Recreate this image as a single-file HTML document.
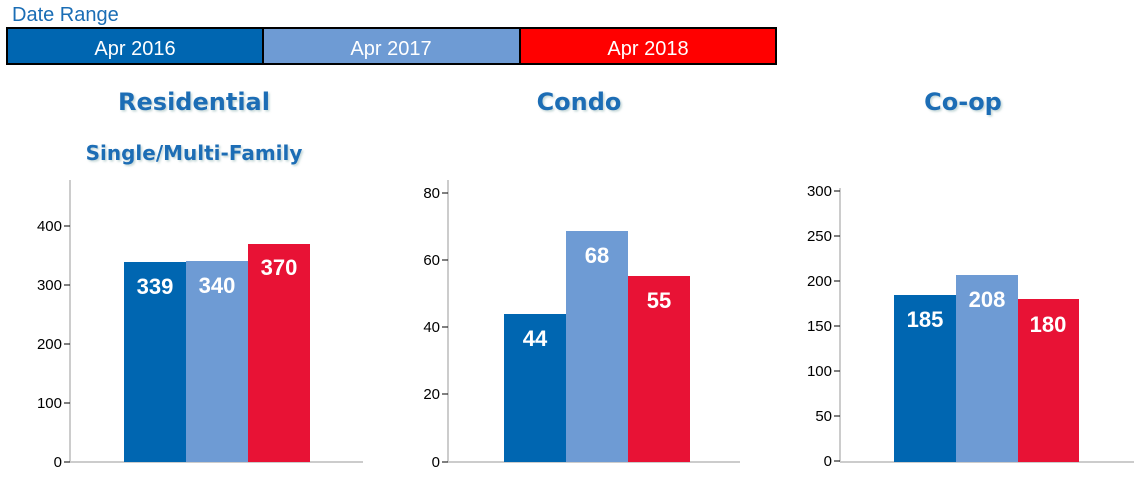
<!DOCTYPE html>
<html><head><meta charset="utf-8"><style>
body{margin:0;background:#fff;width:1143px;height:477px;overflow:hidden}
svg text{font-family:"Liberation Sans",sans-serif}
svg text.t{font-family:"DejaVu Sans",sans-serif}
</style></head><body>
<svg width="1143" height="477" xmlns="http://www.w3.org/2000/svg">
<defs><filter id="sh"><feDropShadow dx="1.5" dy="1.5" stdDeviation="1" flood-color="#9bb" flood-opacity="0.6"/></filter></defs>
<text x="12" y="21" font-size="20" fill="#1a6db5">Date Range</text>
<rect x="7" y="28" width="256" height="36" fill="#0066b1"/>
<rect x="263" y="28" width="257" height="36" fill="#6e9bd4"/>
<rect x="520" y="28" width="256" height="36" fill="#ff0000"/>
<rect x="7" y="28" width="769" height="36" fill="none" stroke="#000" stroke-width="2"/>
<line x1="263" y1="28" x2="263" y2="64" stroke="#000" stroke-width="2"/>
<line x1="520" y1="28" x2="520" y2="64" stroke="#000" stroke-width="2"/>
<g font-size="20" fill="#fff" text-anchor="middle">
<text x="135" y="55">Apr 2016</text><text x="391" y="55">Apr 2017</text><text x="648" y="55">Apr 2018</text></g>
<g font-weight="bold" fill="#1a6db5" text-anchor="middle" filter="url(#sh)">
<text class="t" x="194" y="110" font-size="24">Residential</text>
<text class="t" x="194" y="160" font-size="20">Single/Multi-Family</text>
<text class="t" x="579" y="110" font-size="24">Condo</text>
<text class="t" x="963" y="110" font-size="24">Co-op</text></g>
<g stroke="#ccc" stroke-width="2">
<line x1="70" y1="180" x2="70" y2="462"/><line x1="70" y1="462" x2="363" y2="462"/>
<line x1="448" y1="180" x2="448" y2="462"/><line x1="448" y1="462" x2="740" y2="462"/>
<line x1="840" y1="188" x2="840" y2="462"/><line x1="840" y1="462" x2="1134" y2="462"/></g>
<g stroke="#000" stroke-width="1">
<line x1="64" y1="226" x2="70" y2="226"/><line x1="64" y1="285" x2="70" y2="285"/><line x1="64" y1="344" x2="70" y2="344"/><line x1="64" y1="403" x2="70" y2="403"/><line x1="64" y1="462" x2="70" y2="462"/>
<line x1="442" y1="193" x2="448" y2="193"/><line x1="442" y1="260" x2="448" y2="260"/><line x1="442" y1="327" x2="448" y2="327"/><line x1="442" y1="394" x2="448" y2="394"/><line x1="442" y1="462" x2="448" y2="462"/>
<line x1="834" y1="191" x2="840" y2="191"/><line x1="834" y1="236" x2="840" y2="236"/><line x1="834" y1="281" x2="840" y2="281"/><line x1="834" y1="326" x2="840" y2="326"/><line x1="834" y1="371" x2="840" y2="371"/><line x1="834" y1="416" x2="840" y2="416"/><line x1="834" y1="461" x2="840" y2="461"/></g>
<g font-size="15" fill="#000" text-anchor="end">
<text x="62" y="231">400</text><text x="62" y="290">300</text><text x="62" y="349">200</text><text x="62" y="408">100</text><text x="62" y="467">0</text>
<text x="440" y="198">80</text><text x="440" y="265">60</text><text x="440" y="332">40</text><text x="440" y="399">20</text><text x="440" y="467">0</text>
<text x="832" y="196">300</text><text x="832" y="241">250</text><text x="832" y="286">200</text><text x="832" y="331">150</text><text x="832" y="376">100</text><text x="832" y="421">50</text><text x="832" y="466">0</text></g>
<rect x="124" y="262" width="62" height="200" fill="#0066b1"/>
<rect x="186" y="261" width="62" height="201" fill="#6e9bd4"/>
<rect x="248" y="244" width="62" height="218" fill="#e81235"/>
<rect x="504" y="314" width="62" height="148" fill="#0066b1"/>
<rect x="566" y="231" width="62" height="231" fill="#6e9bd4"/>
<rect x="628" y="276" width="62" height="186" fill="#e81235"/>
<rect x="894" y="295" width="62" height="167" fill="#0066b1"/>
<rect x="956" y="275" width="62" height="187" fill="#6e9bd4"/>
<rect x="1018" y="299" width="61" height="163" fill="#e81235"/>
<g font-size="22" font-weight="bold" fill="#fff" text-anchor="middle">
<text x="155" y="294">339</text><text x="217" y="293">340</text><text x="279" y="275">370</text>
<text x="535" y="346">44</text><text x="597" y="263">68</text><text x="659" y="308">55</text>
<text x="925" y="327">185</text><text x="987" y="307">208</text><text x="1048" y="332">180</text></g>
</svg>
</body></html>
